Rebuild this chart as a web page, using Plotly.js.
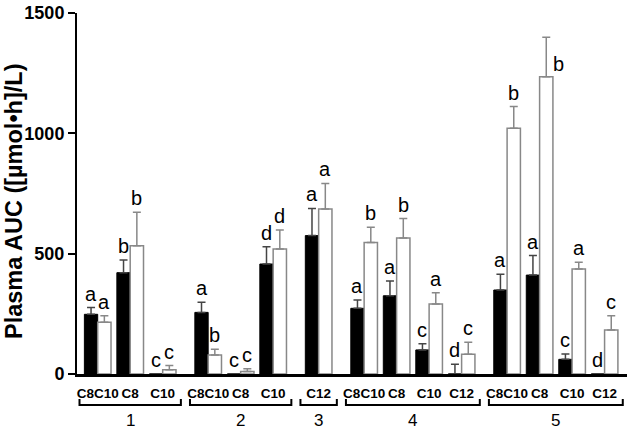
<!DOCTYPE html>
<html>
<head>
<meta charset="utf-8">
<script src="https://cdn.plot.ly/plotly-3.0.1.min.js"></script>
<style>html,body{margin:0;padding:0;background:#fff;}#chart{width:630px;height:429px;}</style>
</head>
<body>
<div id="chart"></div>
<script>
// ---- data ----
const groupNames = ['1', '2', '3', '4', '5'];
const groupSizes = [3, 3, 1, 4, 4];
const pairLabels = ['C8C10', 'C8', 'C10', 'C8C10', 'C8', 'C10', 'C12', 'C8C10', 'C8', 'C10', 'C12', 'C8C10', 'C8', 'C10', 'C12'];
const blackMean = [248, 421, 0, 256, 0, 457, 575, 273, 325, 100, 0, 349, 411, 61, 0];
const blackErr  = [28, 53, 0, 42, 0, 72, 113, 34, 61, 26, 40, 65, 81, 22, 0];
const whiteMean = [215, 533, 18, 79, 10, 519, 686, 546, 565, 291, 82, 1021, 1235, 436, 183];
const whiteErr  = [27, 139, 17, 24, 12, 79, 106, 64, 81, 47, 50, 90, 164, 28, 59];
const blackLetters = ['a', 'b', 'c', 'a', 'c', 'd', 'a', 'a', 'a', 'c', 'd', 'a', 'a', 'c', 'd'];
const whiteLetters = ['a', 'b', 'c', 'b', 'c', 'd', 'a', 'b', 'b', 'a', 'c', 'b', 'b', 'a', 'c'];
const yTicks = [0, 500, 1000, 1500];
const yTitle = 'Plasma AUC ([µmol•h]/L)';

// ---- layout helpers ----
const GAP = 0.4, BW = 0.41;
const pos = [];
const groupSpans = [];
let cur = 0;
groupSizes.forEach((n, g) => {
  const start = cur;
  for (let i = 0; i < n; i++) { pos.push(cur); cur += 1; }
  groupSpans.push([start, cur - 1]);
  cur += GAP;
});

const FONT = 'Arial, "Liberation Sans", sans-serif';

const traces = [
  {
    type: 'bar', x: pos, y: blackMean, width: BW, offset: -BW,
    marker: {color: '#000', line: {color: '#000', width: 1}},
    error_y: {type: 'data', symmetric: false, array: blackErr, arrayminus: blackMean.map(() => 0),
              color: '#444', thickness: 1.5, width: 4},
    hoverinfo: 'skip', showlegend: false
  },
  {
    type: 'bar', x: pos, y: whiteMean, width: BW, offset: 0,
    marker: {color: '#fff', line: {color: '#888', width: 1.5}},
    error_y: {type: 'data', symmetric: false, array: whiteErr, arrayminus: whiteMean.map(() => 0),
              color: '#888', thickness: 1.5, width: 4},
    hoverinfo: 'skip', showlegend: false
  }
];

const annotations = [];
const letterFont = {family: FONT, size: 20, color: '#000'};
pos.forEach((p, i) => {
  annotations.push({
    x: p - BW / 2, y: blackMean[i] + blackErr[i], xref: 'x', yref: 'y',
    text: blackLetters[i], showarrow: false, yanchor: 'bottom', xanchor: 'center',
    font: letterFont, yshift: 1
  });
  const top = whiteMean[i] + whiteErr[i];
  if (top > 1300) {
    annotations.push({
      x: p + BW, y: whiteMean[i] + whiteErr[i] * 0.33, xref: 'x', yref: 'y',
      text: whiteLetters[i], showarrow: false, yanchor: 'middle', xanchor: 'left',
      font: letterFont, xshift: -2
    });
  } else {
    annotations.push({
      x: p + BW / 2, y: top, xref: 'x', yref: 'y',
      text: whiteLetters[i], showarrow: false, yanchor: 'bottom', xanchor: 'center',
      font: letterFont, yshift: 1
    });
  }
});

const PH = 361;
const py = (px) => (374 - px) / PH;
const shapes = [];
groupSpans.forEach((s, g) => {
  const a = s[0] - 0.56, b = s[1] + 0.56;
  shapes.push({
    type: 'path', xref: 'x', yref: 'paper',
    path: `M ${a},${py(399)} L ${a},${py(405)} L ${b},${py(405)} L ${b},${py(399)}`,
    line: {color: '#000', width: 2}
  });
  annotations.push({
    x: (a + b) / 2, y: py(420), xref: 'x', yref: 'paper', text: groupNames[g],
    showarrow: false, xanchor: 'center', yanchor: 'middle',
    font: {family: FONT, size: 17, color: '#000'}
  });
});

annotations.push({
  x: (14 - 77) / 550, y: py(201), xref: 'paper', yref: 'paper', text: '<b>' + yTitle + '</b>',
  showarrow: false, textangle: -90, xanchor: 'center', yanchor: 'middle',
  font: {family: FONT, size: 23.5, color: '#000'}
});

const layout = {
  width: 630, height: 429,
  margin: {l: 77, r: 3, t: 13, b: 55, pad: 0},
  paper_bgcolor: '#fff', plot_bgcolor: '#fff',
  barmode: 'overlay',
  xaxis: {
    range: [-0.637, 16.29], showgrid: false, zeroline: false,
    showline: true, linecolor: '#000', linewidth: 3,
    tickmode: 'array', tickvals: pos, ticktext: pairLabels, ticks: '',
    tickfont: {family: FONT, size: 13.5, color: '#000', weight: 'bold'},
    ticklabelstandoff: 5, fixedrange: true
  },
  yaxis: {
    range: [0, 1500], showgrid: false, zeroline: false,
    showline: true, linecolor: '#000', linewidth: 2,
    tickmode: 'array', tickvals: yTicks, ticks: 'outside', ticklen: 7, tickwidth: 2, tickcolor: '#000',
    tickfont: {family: FONT, size: 18, color: '#000', weight: 'bold'},
    ticklabelstandoff: 0, fixedrange: true
  },
  shapes: shapes,
  annotations: annotations
};

Plotly.newPlot('chart', traces, layout, {displayModeBar: false, staticPlot: true});
</script>
</body>
</html>
